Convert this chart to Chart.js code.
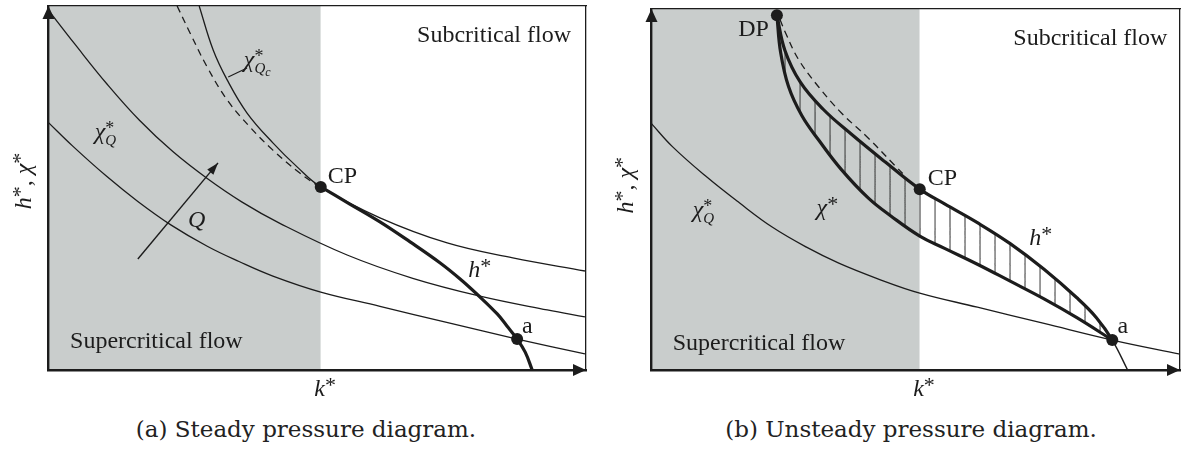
<!DOCTYPE html>
<html>
<head>
<meta charset="utf-8">
<script src="https://cdn.jsdelivr.net/npm/chart.js@4.4.1/dist/chart.umd.min.js"></script>
<style>
  body { margin:0; background:#fff; width:1186px; height:455px; position:relative; overflow:hidden; }
  canvas { position:absolute; top:0; }
  #cA { left:0; }
  #cB { left:593px; }
  .cap { position:absolute; top:416px; width:560px; text-align:center; font-family:"DejaVu Serif"; font-size:23px; line-height:26px; color:#222; }
</style>
</head>
<body>
<canvas id="cA" width="593" height="400"></canvas>
<canvas id="cB" width="593" height="400"></canvas>
<div class="cap" style="left:26px">(a) Steady pressure diagram.</div>
<div class="cap" style="left:631px">(b) Unsteady pressure diagram.</div>
<script>
// values are in % of the axis box: x = k*, y = h*, chi*

// (a) steady
var chiQA   = [[0,68.1],[4.6,61.5],[10.9,53.2],[16.7,46.3],[22.9,39.8],[29.6,34.0],[35.5,29.8],[41.8,25.8],[50.7,21.4],[61.7,17.5],[74.3,13.0],[87.2,8.5],[99.8,4.4]];
var chiMidA = [[0,99],[5,89.5],[11,78.5],[17,68.6],[23.2,60.0],[29.6,52.6],[36,46.2],[43.1,40.3],[55.6,31.6],[67.8,25.2],[80.3,20.3],[92.8,16.5],[99.8,14.6]];
var chiQcA  = [[28.1,100],[30.7,87.9],[33.3,79.7],[37.0,70.6],[41.8,62.4],[46.3,55.8],[50.7,50.3],[61.7,41.8],[74.2,34.9],[86.4,30.8],[99.8,27.2]];
var dashA   = [[24.0,100],[26.4,92.6],[29.6,83.2],[33.3,74.2],[37.5,66.8],[41.8,60.4],[46.8,54.1],[50.2,50.5]];
var hStarA  = [[50.7,50.3],[56.1,45.6],[61.7,40.7],[67.3,35.2],[72.9,29.4],[76.6,25.0],[79.9,20.6],[83.5,15.4],[85.3,12.1],[87.2,8.5],[88.7,4.9],[90.0,0]];
var cpA = [50.7,50.3];
var aA  = [87.2,8.5];
var arrowQA = [[16.7,30.5],[31.6,56.9]];
var leaderA = [[33.5,80.5],[37.0,83.0]];

// (b) unsteady
var chiQB    = [[0,68.4],[4.1,61.8],[10.5,53.5],[16.7,46.3],[22.9,39.6],[29.3,34.1],[35.5,29.6],[43.0,25.2],[50.8,21.3],[61.7,17.4],[74.3,12.9],[87.2,8.3],[100,4.4]];
var chiStarB = [[23.8,98.3],[24.5,88.0],[26.0,78.5],[28.5,70.5],[31.8,63.5],[36.0,55.5],[41.1,47.6],[45.4,42.6],[50.8,37.1],[55.5,33.7],[61.7,29.3],[67.9,24.6],[74.3,19.7],[80.5,14.5],[87.2,8.3]];
var hStarB   = [[23.8,98.3],[25.3,88.6],[28.2,79.8],[32.5,72.3],[37.9,65.3],[44.3,57.6],[50.8,50.1],[55.5,46.0],[61.7,40.8],[67.9,35.0],[74.3,27.9],[80.5,20.0],[84.2,14.5],[87.2,8.3],[90.1,0]];
var dashB    = [[24.4,97.0],[25.4,93.5],[27.9,86.0],[31.7,78.4],[36.0,71.2],[41.1,64.2],[46.0,56.8],[48.2,53.5]];
var dpB = [23.8,98.3];
var cpB = [50.8,50.1];
var aB  = [87.2,8.3];

var INK = '#1c1c1c';
var SHADE = 'rgb(201,205,204)';
var FONT = '"Liberation Serif", "Times New Roman", serif';

function pts(arr) { return arr.map(function(p){ return {x:p[0], y:p[1]}; }); }

function curve(arr, w, extra) {
	var ds = { data: pts(arr), borderColor: INK, borderWidth: w, pointRadius: 0, tension: 0.4, fill: false };
	for (var k in (extra || {})) ds[k] = extra[k];
	return ds;
}

function shade(cp) {
	return { data: pts([[0,100],[cp[0],100]]), borderWidth: 0, pointRadius: 0, tension: 0, backgroundColor: SHADE, fill: 'start', order: 10 };
}

function dots(list) {
	return { data: pts(list), showLine: false, pointRadius: 6, pointBackgroundColor: INK, pointBorderWidth: 0, order: -1, clip: false };
}

// text helpers
function T(t, s) { return {t:t, size:s||24}; }
function I(t, s) { return {t:t, it:true, size:s||24}; }
var STAR = {t:'*', size:22, dy:-4};
var CHI_Q  = [I('χ'), {t:'*', size:18, dy:-5}, {t:'Q', it:true, size:15, dy:6, stack:true}];
var CHI_QC = [I('χ'), {t:'*', size:18, dy:-5}, {t:'Q', it:true, size:15, dy:6, stack:true}, {t:'c', it:true, size:12, dy:9}];

var labelsA = [
	{x:68.6, y:90.1, parts:[T('Subcritical flow')]},
	{x:4.1,  y:6.0,  parts:[T('Supercritical flow')]},
	{x:52.0, y:51.4, parts:[T('CP')]},
	{x:88.1, y:10.2, parts:[T('a')]},
	{x:78.1, y:25.5, parts:[I('h'), STAR]},
	{x:26.0, y:39.3, parts:[I('Q')]},
	{x:8.7,  y:63.5, parts:CHI_Q},
	{x:36.4, y:83.2, parts:CHI_QC},
	{x:51.5, y:-7.1, align:'center', parts:[I('k'), STAR]},
	{x:-3.2, y:51.9, align:'center', rot:true, parts:[I('h'), STAR, T(', '), I('χ'), STAR]}
];
var labelsB = [
	{x:68.5, y:90.0, parts:[T('Subcritical flow')]},
	{x:4.1,  y:5.5,  parts:[T('Supercritical flow')]},
	{x:16.5, y:92.5, parts:[T('DP')]},
	{x:52.3, y:51.2, parts:[T('CP')]},
	{x:88.2, y:10.2, parts:[T('a')]},
	{x:71.5, y:34.6, parts:[I('h'), STAR]},
	{x:7.9,  y:42.4, parts:CHI_Q},
	{x:31.3, y:42.9, parts:[I('χ'), STAR]},
	{x:51.6, y:-7.2, align:'center', parts:[I('k'), STAR]},
	{x:-3.4, y:51.2, align:'center', rot:true, parts:[I('h'), STAR, T(', '), I('χ'), STAR]}
];

function richLayout(ctx, parts) {
	var cx = 0, lastStart = 0, out = [];
	parts.forEach(function(p) {
		ctx.font = (p.it ? 'italic ' : '') + p.size + 'px ' + FONT;
		var w = ctx.measureText(p.t).width;
		var start = p.stack ? lastStart : cx;
		out.push({p:p, x:start, font:ctx.font});
		if (!p.stack) { lastStart = start; cx = start + w; }
		else cx = Math.max(cx, start + w);
	});
	return {items:out, width:cx};
}

function drawRich(ctx, x, y, lab) {
	var lay = richLayout(ctx, lab.parts);
	ctx.save();
	ctx.translate(x, y);
	if (lab.rot) ctx.rotate(-Math.PI/2);
	var off = lab.align === 'center' ? -lay.width/2 : 0;
	ctx.fillStyle = INK;
	ctx.textBaseline = 'alphabetic';
	lay.items.forEach(function(it) {
		ctx.font = it.font;
		ctx.fillText(it.p.t, off + it.x, it.p.dy || 0);
	});
	ctx.restore();
}

function head(ctx, tx, ty, ang, len, hw) {
	ctx.save();
	ctx.translate(tx, ty);
	ctx.rotate(ang);
	ctx.beginPath();
	ctx.moveTo(0, 0);
	ctx.lineTo(-len, -hw);
	ctx.lineTo(-len, hw);
	ctx.closePath();
	ctx.fillStyle = INK;
	ctx.fill();
	ctx.restore();
}

var hatch = (function(){
	var c = document.createElement('canvas');
	c.width = 15; c.height = 4;
	var g = c.getContext('2d');
	g.fillStyle = '#2b2b2b';
	g.fillRect(0, 0, 1, 4);
	return g.createPattern(c, 'repeat');
})();

var deco = {
	id: 'deco',
	beforeDatasetsDraw: function(chart) {
		var o = chart.options.plugins.deco;
		if (o.hatchAt != null) {
			var px = Math.round(chart.scales.x.getPixelForValue(o.hatchAt)) - 0.5;
			hatch.setTransform(new DOMMatrix([1,0,0,1,px,0]));
		}
	},
	afterDraw: function(chart) {
		var o = chart.options.plugins.deco;
		var ctx = chart.ctx, ca = chart.chartArea;
		var sx = chart.scales.x, sy = chart.scales.y;
		// axis arrows
		head(ctx, ca.left + 0.5, ca.top, -Math.PI/2, 13, 6);
		head(ctx, ca.right, ca.bottom, 0, 13, 6);
		// arrow heads on flagged datasets
		chart.data.datasets.forEach(function(ds, i) {
			if (!ds.arrowHead) return;
			var d = chart.getDatasetMeta(i).data;
			var p1 = d[d.length-2], p2 = d[d.length-1];
			head(ctx, p2.x, p2.y, Math.atan2(p2.y-p1.y, p2.x-p1.x), 12, 4);
		});
		o.labels.forEach(function(lab) {
			drawRich(ctx, sx.getPixelForValue(lab.x), sy.getPixelForValue(lab.y), lab);
		});
	}
};

function axes() {
	function ax(pos, bw) {
		var horiz = pos === 'top' || pos === 'bottom';
		return {
			type: 'linear', min: 0, max: 100, position: pos,
			ticks: { display: false },
			grid: { display: false, drawTicks: false },
			border: { display: true, color: INK, width: bw, z: 1 },
			afterFit: function(s) { if (horiz) s.height = 0; else s.width = 0; }
		};
	}
	return { x: ax('bottom', 2.4), y: ax('left', 2.4), x2: ax('top', 1.3), y2: ax('right', 1.3) };
}

function baseOptions(pad, labels, hatchAt) {
	return {
		responsive: false,
		animation: false,
		layout: { padding: pad },
		scales: axes(),
		plugins: { legend: { display: false }, tooltip: { enabled: false }, deco: { labels: labels, hatchAt: hatchAt } }
	};
}

new Chart(document.getElementById('cA'), {
	type: 'line',
	data: { datasets: [
		shade(cpA),
		curve(chiQA, 1.3),
		curve(chiMidA, 1.3),
		curve(chiQcA, 1.3),
		curve(dashA, 1.3, { borderDash: [7, 5] }),
		curve(hStarA, 3.2),
		curve(arrowQA, 1.4, { arrowHead: true, tension: 0 }),
		curve(leaderA, 1.1, { tension: 0 }),
		dots([cpA, aA])
	]},
	options: baseOptions({ left: 48, top: 6, right: 7, bottom: 30 }, labelsA, null),
	plugins: [deco]
});

var idxA = hStarB.findIndex(function(p){ return p[0] === aB[0]; });

new Chart(document.getElementById('cB'), {
	type: 'line',
	data: { datasets: [
		shade(cpB),
		curve(chiQB, 1.3),
		curve(hStarB, 3.2, { segment: { borderWidth: function(c){ return c.p0DataIndex >= idxA ? 1.4 : 3.2; } } }),
		curve(chiStarB, 3.2, { fill: 2, backgroundColor: hatch }),
		curve(dashB, 1.3, { borderDash: [7, 5] }),
		dots([dpB, cpB, aB])
	]},
	options: baseOptions({ left: 58, top: 9, right: 2, bottom: 30 }, labelsB, cpB[0]),
	plugins: [deco]
});
</script>
</body>
</html>
